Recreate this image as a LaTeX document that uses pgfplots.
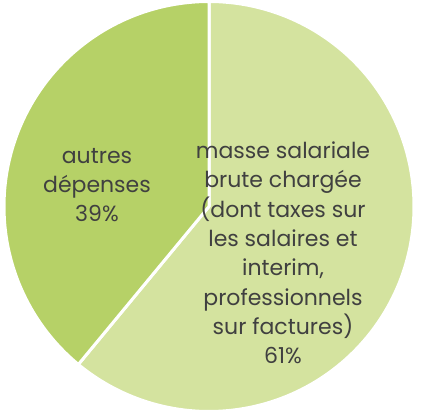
\documentclass[border=0pt]{standalone}
\usepackage{pgfplots}
\pgfplotsset{compat=1.18}
\usepackage{fontspec}
\setmainfont{Poppins}
\definecolor{lightg}{HTML}{D4E39F}
\definecolor{darkg}{HTML}{B6D167}
\definecolor{txt}{HTML}{404040}
% data (percent)
\def\pA{61}
\def\pB{39}
\pgfmathsetmacro{\aStart}{90}
\pgfmathsetmacro{\aMid}{90-\pA*3.6}
\pgfmathsetmacro{\aEnd}{90-(\pA+\pB)*3.6}
\def\cx{209}
\def\cy{210.5}
\def\rr{205}
\begin{document}
\begin{tikzpicture}
\begin{axis}[x=1pt,y=1pt,xmin=0,xmax=423,ymin=0,ymax=417,
  hide axis, scale only axis, clip=false]
\path (axis cs:0,0) rectangle (axis cs:423,417);
\addplot[fill=lightg, draw=white, line width=3pt, line join=round, domain=\aStart:\aMid, samples=150]
  ({\cx+\rr*cos(x)},{\cy+\rr*sin(x)}) -- (axis cs:\cx,\cy) -- cycle;
\addplot[fill=darkg, draw=white, line width=3pt, line join=round, domain=\aMid:\aEnd, samples=150]
  ({\cx+\rr*cos(x)},{\cy+\rr*sin(x)}) -- (axis cs:\cx,\cy) -- cycle;
\node[align=center, text=txt, font=\fontsize{22}{29.3}\selectfont] at (axis cs:283,164)
  {masse salariale\\brute chargée\\(dont taxes sur\\les salaires et\\interim,\\professionnels\\sur factures)\\\pA\%};
\node[align=center, text=txt, font=\fontsize{22}{29.3}\selectfont] at (axis cs:97,232)
  {autres\\dépenses\\\pB\%};
\end{axis}
\end{tikzpicture}
\end{document}
